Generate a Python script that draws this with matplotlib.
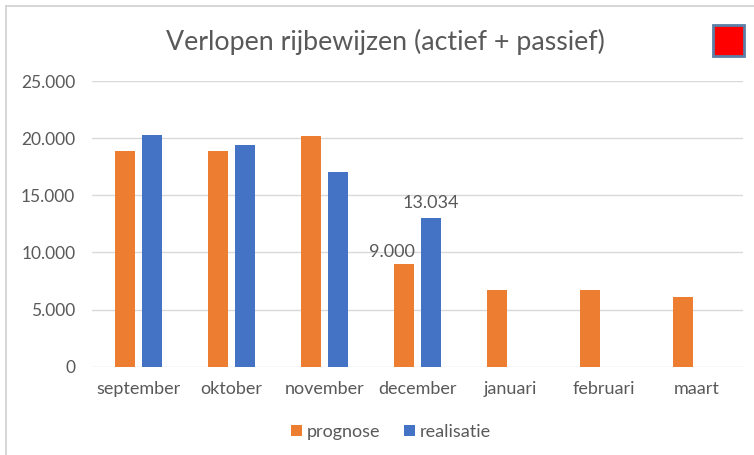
import matplotlib
matplotlib.use("Agg")
import matplotlib.pyplot as plt
from matplotlib.patches import Rectangle
from matplotlib.lines import Line2D
import numpy as np

# values
maanden = ["september", "oktober", "november", "december", "januari", "februari", "maart"]
prognose = [18900, 18900, 20200, 9000, 6750, 6750, 6100]
realisatie = [20300, 19400, 17000, 13034, None, None, None]
yticks = [0, 5000, 10000, 15000, 20000, 25000]

oranje = "#ED7D31"
blauw = "#4472C4"
grijs = "#595959"

plt.rcParams["font.family"] = ["Lato", "DejaVu Sans"]


def nl(v):
    # dutch thousands separator
    return "{:,}".format(int(v)).replace(",", ".")


fig = plt.figure(figsize=(7.54, 4.55), dpi=100)
ax = fig.add_axes([92 / 754, 88.3 / 455, 651 / 754, 285.7 / 455])

pos = np.arange(len(maanden))
w = 0.215
off = 0.145
ax.bar(pos - off, prognose, w, color=oranje, label="prognose", zorder=3)
rv = [v if v is not None else 0 for v in realisatie]
ax.bar(pos + off, rv, w, color=blauw, label="realisatie", zorder=3)

# data labels only for december
i = maanden.index("december")
ax.annotate(nl(prognose[i]), (pos[i] - off, prognose[i]), xytext=(-9, 3),
            textcoords="offset points", ha="center", va="bottom", fontsize=13, color=grijs)
ax.annotate(nl(realisatie[i]), (pos[i] + off, realisatie[i]), xytext=(0, 5),
            textcoords="offset points", ha="center", va="bottom", fontsize=13, color=grijs)

ax.set_xlim(-0.5, len(maanden) - 0.5)
ax.set_ylim(0, 25000)
ax.set_yticks(yticks)
ax.set_yticklabels([nl(v) for v in yticks])
ax.set_xticks(pos)
ax.set_xticklabels(maanden)
ax.grid(axis="y", color="#D9D9D9", linewidth=1, zorder=0)
for s in ax.spines.values():
    s.set_visible(False)
ax.tick_params(axis="both", length=0, colors=grijs)
ax.tick_params(axis="y", pad=12, labelsize=12.5)
ax.tick_params(axis="x", pad=10, labelsize=13)

fig.text(385 / 754, 1 - 42 / 455, "Verlopen rijbewijzen (actief + passief)",
         ha="center", va="center", fontsize=19.3, color=grijs)

# red square top right
fig.patches.append(Rectangle((713 / 754, 1 - 56 / 455), 31 / 754, 31 / 455,
                             transform=fig.transFigure, facecolor="#FF0000",
                             edgecolor="#5B7FA6", linewidth=2))

# chart border (left and top)
fig.add_artist(Line2D([6 / 754, 6 / 754], [0, 1 - 6 / 455], transform=fig.transFigure,
                      color="#D0D0D0", linewidth=1.2))
fig.add_artist(Line2D([6 / 754, 1], [1 - 6 / 455, 1 - 6 / 455], transform=fig.transFigure,
                      color="#D0D0D0", linewidth=1.2))

fig.legend(loc="center", bbox_to_anchor=(391 / 754, 1 - 432 / 455), ncol=2, frameon=False,
           fontsize=13, handlelength=0.6, handleheight=0.6, handletextpad=0.3,
           columnspacing=1.3, labelcolor=grijs)

fig.savefig("out.png", dpi=100)
